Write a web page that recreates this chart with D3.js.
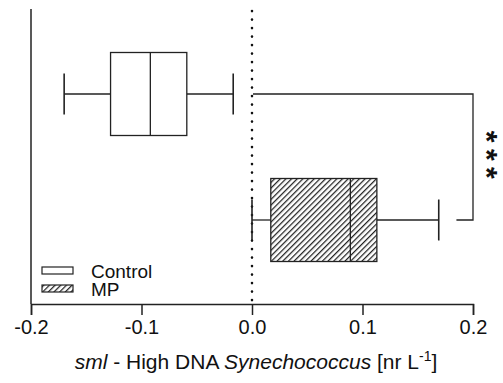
<!DOCTYPE html>
<html><head><meta charset="utf-8">
<script src="https://cdn.jsdelivr.net/npm/d3@7"></script>
<style>html,body{margin:0;padding:0;background:#fff;}svg{display:block;font-family:"Liberation Sans",Arial,sans-serif;}</style>
</head><body>
<svg id="c" width="503" height="383"></svg>
<script>
const categories = ["Control", "MP"];
const whiskerLow  = [-0.170, 0.000];
const q1          = [-0.128, 0.017];
const medians     = [-0.092, 0.089];
const q3          = [-0.059, 0.113];
const whiskerHigh = [-0.017, 0.169];
const xTicks = [-0.2, -0.1, 0.0, 0.1, 0.2];
const xTickLabels = ["-0.2", "-0.1", "0.0", "0.1", "0.2"];
const sigLabel = "***";

const svg = d3.select("#c");
const x = d3.scaleLinear().domain([-0.2, 0.2]).range([31, 473]);
const y = d3.scalePoint().domain(categories).range([94, 220]);
const boxH = 83, capH = 41;
const plotTop = 9, plotBottom = 304;

const defs = svg.append("defs");
const pat = defs.append("pattern").attr("id", "hatch").attr("patternUnits", "userSpaceOnUse")
  .attr("width", 4).attr("height", 8).attr("patternTransform", "rotate(45)");
pat.append("rect").attr("width", 4).attr("height", 8).attr("fill", "#fff");
pat.append("line").attr("x1", 0.6).attr("y1", -1).attr("x2", 0.6).attr("y2", 9)
  .attr("stroke", "#222").attr("stroke-width", 1.3);

const fills = ["#fff", "url(#hatch)"];

// dotted zero line
svg.append("line").attr("x1", x(0)).attr("x2", x(0)).attr("y1", plotTop + 2).attr("y2", plotBottom)
  .attr("stroke", "#111").attr("stroke-width", 2.6).attr("stroke-linecap", "round")
  .attr("stroke-dasharray", "0.1,8.4");

// y axis line
svg.append("line").attr("x1", x(-0.2)).attr("x2", x(-0.2)).attr("y1", plotTop).attr("y2", plotBottom)
  .attr("stroke", "#222").attr("stroke-width", 1.5);

// x axis
const xAxis = d3.axisBottom(x).tickValues(xTicks).tickFormat((d, i) => xTickLabels[i]).tickSizeOuter(0).tickSize(11).tickPadding(5);
const gx = svg.append("g").attr("transform", `translate(0,${plotBottom})`).call(xAxis);
gx.select(".domain").attr("stroke", "#222").attr("stroke-width", 1.5);
gx.selectAll(".tick line").attr("stroke", "#222").attr("stroke-width", 1.5);
gx.selectAll(".tick text").attr("fill", "#111").attr("font-size", 20).attr("font-family", "Liberation Sans, Arial, sans-serif");

// boxes
categories.forEach((c, i) => {
  const cy = y(c);
  const g = svg.append("g");
  g.append("line").attr("x1", x(whiskerLow[i])).attr("x2", x(q1[i])).attr("y1", cy).attr("y2", cy).attr("stroke", "#222").attr("stroke-width", 1.3);
  g.append("line").attr("x1", x(q3[i])).attr("x2", x(whiskerHigh[i])).attr("y1", cy).attr("y2", cy).attr("stroke", "#222").attr("stroke-width", 1.3);
  [whiskerLow[i], whiskerHigh[i]].forEach(v => {
    g.append("line").attr("x1", x(v)).attr("x2", x(v)).attr("y1", cy - capH / 2).attr("y2", cy + capH / 2).attr("stroke", "#222").attr("stroke-width", 1.6);
  });
  g.append("rect").attr("x", x(q1[i])).attr("y", cy - boxH / 2).attr("width", x(q3[i]) - x(q1[i])).attr("height", boxH)
    .attr("fill", fills[i]).attr("stroke", "#222").attr("stroke-width", 1.3);
  g.append("line").attr("x1", x(medians[i])).attr("x2", x(medians[i])).attr("y1", cy - boxH / 2).attr("y2", cy + boxH / 2).attr("stroke", "#222").attr("stroke-width", 1.3);
});

// significance bracket
svg.append("path")
  .attr("d", `M${x(0) + 1},${y("Control")} H${x(0.2)} V${y("MP")} H${x(0.185)}`)
  .attr("fill", "none").attr("stroke", "#222").attr("stroke-width", 1.3);
const midY = (y("Control") + y("MP")) / 2;
svg.append("text").attr("transform", `translate(476.5,${midY + 1}) rotate(90)`)
  .attr("text-anchor", "middle").attr("font-size", 30).attr("font-weight", "bold").attr("fill", "#111")
  .attr("letter-spacing", 6.5).text(sigLabel);

// legend
categories.forEach((c, i) => {
  const ly = 267 + i * 18;
  svg.append("rect").attr("x", 42).attr("y", ly).attr("width", 31).attr("height", 7)
    .attr("fill", fills[i]).attr("stroke", "#222").attr("stroke-width", 1.2);
});
const lt = svg.append("text").attr("font-size", 19).attr("fill", "#111");
categories.forEach((c, i) => {
  lt.append("tspan").attr("x", 91).attr("y", 278 + i * 17.5).text(c);
});

// x axis title
const t = svg.append("text").attr("x", (x(-0.2) + x(0.2)) / 2 + 4).attr("y", 369).attr("text-anchor", "middle")
  .attr("font-size", 21).attr("fill", "#111");
t.append("tspan").attr("font-style", "italic").text("sml");
t.append("tspan").text(" - High DNA ");
t.append("tspan").attr("font-style", "italic").text("Synechococcus");
t.append("tspan").text(" [nr L");
t.append("tspan").attr("dy", -8).attr("font-size", 14).text("-1");
t.append("tspan").attr("dy", 8).text("]");
</script>
</body></html>
